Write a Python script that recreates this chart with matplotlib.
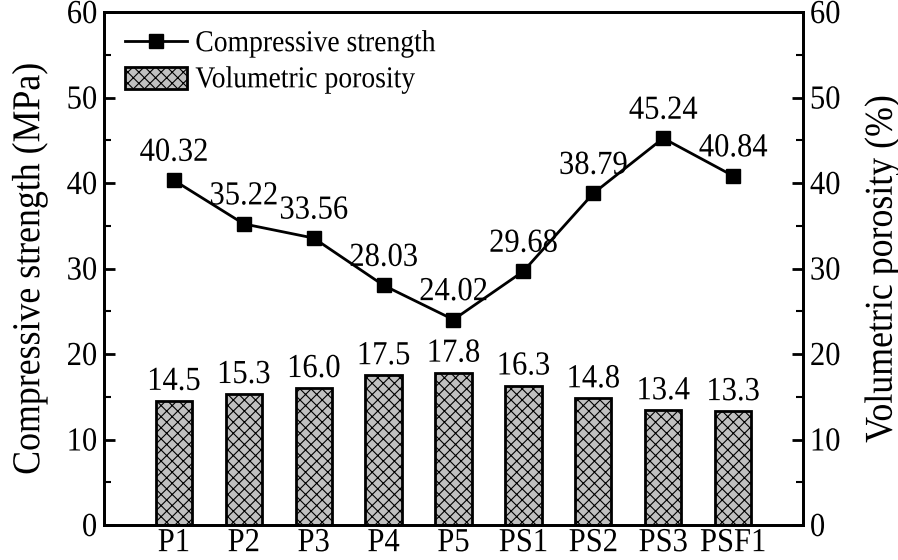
import matplotlib
matplotlib.use("Agg")
import matplotlib.pyplot as plt
from matplotlib.ticker import MultipleLocator
from matplotlib.patheffects import AbstractPathEffect
from matplotlib.transforms import Affine2D

plt.rcParams['font.family'] = ['Liberation Serif', 'DejaVu Serif']
plt.rcParams['hatch.linewidth'] = 0.8

categories = ["P1", "P2", "P3", "P4", "P5", "PS1", "PS2", "PS3", "PSF1"]
strength = [40.32, 35.22, 33.56, 28.03, 24.02, 29.68, 38.79, 45.24, 40.84]
porosity = [14.5, 15.3, 16.0, 17.5, 17.8, 16.3, 14.8, 13.4, 13.3]
strength_labels = ["40.32", "35.22", "33.56", "28.03", "24.02", "29.68", "38.79", "45.24", "40.84"]
porosity_labels = ["14.5", "15.3", "16.0", "17.5", "17.8", "16.3", "14.8", "13.4", "13.3"]


class Stretch(AbstractPathEffect):
    """Slightly taller glyphs, like the reference's narrow serif face."""
    def __init__(self, sy=1.1):
        super().__init__()
        self.sy = sy

    def draw_path(self, renderer, gc, tpath, affine, rgbFace=None):
        renderer.draw_path(gc, tpath, Affine2D().scale(1.0, self.sy) + affine, rgbFace)


PE = [Stretch(1.1)]
fs = 22
fig = plt.figure(figsize=(8.98, 5.6), dpi=100)
ax = fig.add_axes([0.1158, 0.0625, 0.7784, 0.916])
ax2 = ax.twinx()

x = list(range(len(categories)))
bars = ax2.bar(x, porosity, width=0.52, color='#c0c0c0', edgecolor='black',
               linewidth=2, hatch='xxx', label='Volumetric porosity', zorder=2)
for xi, v, t in zip(x, porosity, porosity_labels):
    ax2.annotate(t, (xi, v), xytext=(0, 3), textcoords='offset points',
                 ha='center', va='bottom', fontsize=fs, path_effects=PE)

line, = ax.plot(x, strength, color='black', marker='s', markersize=10,
                linewidth=2, label='Compressive strength', zorder=5)
for xi, v, t in zip(x, strength, strength_labels):
    ax.annotate(t, (xi, v), xytext=(0, 9), textcoords='offset points',
                ha='center', va='bottom', fontsize=fs, path_effects=PE)

ax.set_zorder(ax2.get_zorder() + 1)
ax.patch.set_visible(False)

for a in (ax, ax2):
    a.set_ylim(0, 60)
    a.yaxis.set_major_locator(MultipleLocator(10))
    a.yaxis.set_minor_locator(MultipleLocator(5))
    for s in a.spines.values():
        s.set_linewidth(2)
ax.set_xlim(-1, 9)
ax.set_xticks(x)
ax.set_xticklabels(categories, fontsize=fs)
ax.tick_params(axis='x', length=0, pad=3)
ax.tick_params(axis='y', which='major', direction='in', length=8, width=2, labelsize=fs, pad=5)
ax.tick_params(axis='y', which='minor', direction='in', length=5, width=1.5)
ax2.tick_params(axis='y', which='major', direction='in', length=8, width=2, labelsize=fs, pad=5)
ax2.tick_params(axis='y', which='minor', direction='in', length=5, width=1.5)

ax.set_ylabel('Compressive strength (MPa)', fontsize=25.8, labelpad=14, path_effects=PE)
ax2.set_ylabel('Volumetric porosity (%)', fontsize=25.8, labelpad=19, path_effects=PE)

leg = ax.legend([line, bars], ['Compressive strength', 'Volumetric porosity'],
                loc='upper left', frameon=False, fontsize=19.9, handlelength=2.25,
                handleheight=0.83, borderaxespad=0.0, borderpad=0.4,
                handletextpad=0.3, labelspacing=0.35,
                bbox_to_anchor=(0.014, 0.985))
for t in leg.get_texts():
    t.set_path_effects(PE)

for lbl in ax.get_xticklabels() + ax.get_yticklabels() + ax2.get_yticklabels():
    lbl.set_path_effects(PE)

fig.savefig('out.png', dpi=100)
